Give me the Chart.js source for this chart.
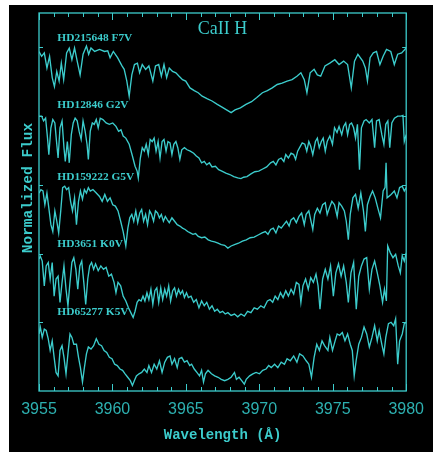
<!DOCTYPE html>
<html>
<head>
<meta charset="utf-8">
<script src="https://cdn.jsdelivr.net/npm/chart.js@4.4.1/dist/chart.umd.min.js"></script>
<style>
  html, body { margin: 0; padding: 0; background: #fff; }
  #plot { position: absolute; left: 9px; top: 5px; background: #000; }
</style>
</head>
<body>
<canvas id="plot" width="424" height="447"></canvas>
<script>
// Ca II H region, five dwarfs, each normalized and offset by 1
const starNames = ['HD215648 F7V', 'HD12846 G2V', 'HD159222 G5V', 'HD3651 K0V', 'HD65277 K5V'];
const starOffsets = [4, 3, 2, 1, 0];
const labelY = [5.09, 4.12, 3.07, 2.10, 1.11];
const labelX = 3956.25;
const xTicks = [3955, 3960, 3965, 3970, 3975, 3980];

const waveF7 = [3955.00,3955.18,3955.36,3955.54,3955.72,3955.90,3956.05,3956.21,3956.37,3956.52,3956.68,3956.88,3957.06,3957.24,3957.42,3957.60,3957.80,3958.00,3958.23,3958.38,3958.54,3958.79,3959.12,3959.46,3959.68,3959.84,3960.06,3960.35,3960.65,3960.80,3960.98,3961.14,3961.32,3961.50,3961.70,3961.85,3962.03,3962.26,3962.48,3962.75,3962.93,3963.15,3963.33,3963.51,3963.69,3963.87,3964.09,3964.32,3964.54,3964.77,3964.99,3965.28,3965.57,3965.84,3966.11,3966.47,3966.78,3967.14,3967.46,3967.77,3968.08,3968.35,3968.71,3969.09,3969.47,3969.83,3970.21,3970.55,3970.88,3971.22,3971.55,3971.89,3972.23,3972.56,3972.83,3973.06,3973.24,3973.46,3973.73,3973.95,3974.18,3974.47,3974.80,3975.14,3975.43,3975.74,3976.01,3976.26,3976.48,3976.71,3977.04,3977.22,3977.36,3977.54,3977.76,3977.98,3978.21,3978.43,3978.66,3978.95,3979.19,3979.42,3979.69,3980.00];
const fluxF7 = [0.94,0.87,0.92,0.70,0.87,0.56,0.43,0.65,0.51,0.77,0.53,0.92,0.99,0.82,0.99,0.80,0.60,0.90,1.02,0.90,0.99,0.94,0.97,0.94,0.95,0.85,0.94,0.85,0.73,0.68,0.51,0.29,0.60,0.75,0.77,0.63,0.75,0.68,0.73,0.51,0.73,0.75,0.58,0.75,0.56,0.70,0.65,0.63,0.58,0.53,0.51,0.41,0.37,0.34,0.29,0.25,0.22,0.17,0.13,0.09,0.05,0.09,0.12,0.17,0.21,0.27,0.34,0.37,0.41,0.46,0.48,0.51,0.53,0.58,0.63,0.53,0.34,0.63,0.68,0.60,0.58,0.73,0.77,0.82,0.75,0.80,0.75,0.41,0.80,0.90,0.80,0.70,0.51,0.85,0.92,0.94,0.75,0.87,0.97,0.94,0.75,0.90,0.92,0.99];

const waveG2 = [3955.00,3955.18,3955.31,3955.45,3955.58,3955.67,3955.81,3955.94,3956.08,3956.21,3956.30,3956.43,3956.57,3956.70,3956.79,3956.93,3957.06,3957.20,3957.33,3957.46,3957.60,3957.73,3957.87,3958.00,3958.14,3958.27,3958.36,3958.49,3958.63,3958.76,3958.90,3959.03,3959.17,3959.35,3959.57,3959.79,3960.02,3960.24,3960.42,3960.58,3960.73,3960.91,3961.14,3961.36,3961.54,3961.68,3961.76,3961.90,3962.03,3962.17,3962.30,3962.44,3962.57,3962.71,3962.84,3962.97,3963.11,3963.24,3963.38,3963.51,3963.65,3963.78,3963.92,3964.05,3964.18,3964.32,3964.45,3964.59,3964.72,3964.90,3965.08,3965.30,3965.53,3965.71,3965.89,3966.07,3966.25,3966.42,3966.60,3966.78,3967.01,3967.23,3967.45,3967.72,3967.99,3968.26,3968.53,3968.75,3968.93,3969.16,3969.43,3969.69,3969.96,3970.23,3970.50,3970.77,3970.95,3971.13,3971.31,3971.49,3971.67,3971.80,3971.98,3972.16,3972.34,3972.47,3972.61,3972.79,3972.92,3973.10,3973.23,3973.37,3973.50,3973.64,3973.82,3973.95,3974.08,3974.22,3974.35,3974.49,3974.62,3974.80,3974.98,3975.12,3975.29,3975.43,3975.61,3975.74,3975.88,3976.01,3976.15,3976.28,3976.42,3976.55,3976.68,3976.82,3976.95,3977.13,3977.27,3977.49,3977.67,3977.85,3977.98,3978.16,3978.34,3978.48,3978.61,3978.75,3978.88,3979.02,3979.20,3979.42,3979.64,3979.78,3979.87,3980.00];
const fluxG2 = [1.00,1.00,0.93,0.97,0.68,0.44,0.83,0.95,0.90,0.59,0.39,0.83,0.93,0.54,0.34,0.63,0.32,0.73,0.90,0.97,0.93,0.78,0.66,0.93,0.78,0.59,0.37,0.78,0.90,0.88,0.95,0.83,0.97,0.95,0.90,0.88,0.90,0.85,0.78,0.80,0.71,0.68,0.59,0.42,0.27,0.20,0.10,0.39,0.54,0.49,0.59,0.44,0.66,0.63,0.68,0.49,0.63,0.39,0.63,0.66,0.49,0.63,0.61,0.44,0.59,0.63,0.54,0.37,0.51,0.54,0.51,0.49,0.46,0.42,0.39,0.32,0.34,0.29,0.32,0.26,0.27,0.22,0.20,0.17,0.15,0.12,0.10,0.09,0.11,0.12,0.16,0.19,0.20,0.23,0.26,0.32,0.34,0.29,0.37,0.39,0.34,0.44,0.39,0.46,0.44,0.37,0.49,0.56,0.61,0.59,0.49,0.63,0.56,0.44,0.63,0.68,0.54,0.63,0.68,0.49,0.63,0.71,0.59,0.83,0.76,0.85,0.73,0.85,0.90,0.73,0.88,0.90,0.83,0.68,0.88,0.22,0.83,0.93,0.95,0.90,0.95,0.54,0.93,0.95,0.73,0.59,0.88,0.93,0.54,0.90,0.97,1.00,1.00,1.01,0.63,0.73];

const waveG5 = [3955.00,3955.13,3955.27,3955.40,3955.54,3955.67,3955.81,3955.94,3956.08,3956.21,3956.34,3956.48,3956.61,3956.75,3956.88,3957.02,3957.15,3957.28,3957.42,3957.55,3957.69,3957.82,3957.96,3958.09,3958.23,3958.36,3958.49,3958.67,3958.90,3959.12,3959.30,3959.48,3959.66,3959.84,3960.02,3960.20,3960.38,3960.56,3960.73,3960.91,3961.05,3961.18,3961.32,3961.45,3961.59,3961.72,3961.86,3961.99,3962.12,3962.26,3962.39,3962.53,3962.66,3962.80,3962.93,3963.07,3963.20,3963.33,3963.47,3963.60,3963.74,3963.87,3964.05,3964.23,3964.41,3964.59,3964.77,3964.95,3965.12,3965.30,3965.48,3965.66,3965.84,3966.07,3966.29,3966.52,3966.74,3966.96,3967.19,3967.41,3967.64,3967.86,3968.08,3968.31,3968.58,3968.85,3969.11,3969.38,3969.65,3969.92,3970.19,3970.41,3970.59,3970.77,3970.95,3971.13,3971.31,3971.49,3971.67,3971.85,3972.03,3972.16,3972.34,3972.52,3972.70,3972.88,3973.06,3973.19,3973.37,3973.50,3973.64,3973.77,3973.95,3974.13,3974.31,3974.49,3974.62,3974.76,3974.94,3975.12,3975.30,3975.43,3975.61,3975.79,3975.92,3976.06,3976.19,3976.37,3976.55,3976.73,3976.91,3977.09,3977.22,3977.36,3977.54,3977.71,3977.89,3978.07,3978.25,3978.43,3978.56,3978.63,3978.70,3978.97,3979.19,3979.37,3979.55,3979.73,3979.87,3980.00];
const fluxG5 = [0.88,0.93,0.91,0.71,0.88,0.66,0.42,0.32,0.62,0.47,0.30,0.62,0.96,0.98,0.93,0.96,0.76,0.62,0.81,0.42,0.76,0.91,0.79,0.93,0.88,0.96,0.91,0.93,0.88,0.83,0.76,0.86,0.76,0.81,0.71,0.69,0.62,0.47,0.32,0.11,0.37,0.52,0.57,0.47,0.62,0.45,0.59,0.64,0.47,0.57,0.42,0.62,0.57,0.47,0.62,0.59,0.52,0.57,0.47,0.54,0.49,0.45,0.52,0.47,0.42,0.40,0.37,0.35,0.32,0.30,0.28,0.29,0.25,0.23,0.24,0.20,0.18,0.17,0.15,0.13,0.12,0.08,0.11,0.13,0.15,0.18,0.20,0.23,0.24,0.27,0.30,0.32,0.28,0.35,0.37,0.30,0.40,0.37,0.42,0.47,0.40,0.49,0.52,0.45,0.54,0.59,0.42,0.57,0.62,0.49,0.35,0.57,0.66,0.59,0.71,0.74,0.57,0.66,0.76,0.71,0.54,0.74,0.69,0.62,0.47,0.20,0.57,0.81,0.86,0.66,0.88,0.62,0.32,0.71,0.83,0.91,0.81,0.66,0.52,0.91,0.96,1.32,0.81,0.86,0.91,0.81,0.96,0.98,0.91,0.96];

const waveK0 = [3955.00,3955.09,3955.22,3955.36,3955.49,3955.63,3955.76,3955.90,3956.03,3956.16,3956.30,3956.43,3956.57,3956.70,3956.84,3956.97,3957.11,3957.24,3957.37,3957.51,3957.64,3957.78,3957.91,3958.05,3958.18,3958.32,3958.45,3958.58,3958.72,3958.85,3959.03,3959.21,3959.39,3959.57,3959.75,3959.93,3960.11,3960.24,3960.38,3960.56,3960.73,3960.91,3961.09,3961.25,3961.41,3961.54,3961.68,3961.81,3961.95,3962.08,3962.21,3962.35,3962.48,3962.62,3962.75,3962.89,3963.02,3963.15,3963.29,3963.42,3963.56,3963.69,3963.83,3963.96,3964.10,3964.23,3964.36,3964.50,3964.63,3964.77,3964.90,3965.04,3965.17,3965.35,3965.53,3965.71,3965.89,3966.07,3966.25,3966.42,3966.60,3966.78,3966.96,3967.14,3967.32,3967.50,3967.68,3967.86,3968.08,3968.31,3968.53,3968.75,3968.98,3969.20,3969.43,3969.65,3969.87,3970.10,3970.32,3970.55,3970.73,3970.91,3971.08,3971.26,3971.44,3971.62,3971.80,3971.98,3972.16,3972.34,3972.52,3972.70,3972.83,3972.97,3973.15,3973.33,3973.50,3973.68,3973.86,3974.00,3974.13,3974.31,3974.49,3974.67,3974.85,3975.04,3975.21,3975.39,3975.57,3975.74,3975.92,3976.06,3976.24,3976.42,3976.60,3976.77,3976.95,3977.13,3977.31,3977.49,3977.67,3977.85,3978.03,3978.21,3978.39,3978.52,3978.65,3978.74,3978.92,3979.10,3979.28,3979.46,3979.60,3979.73,3979.87,3980.00];
const fluxK0 = [0.92,0.96,0.89,0.53,0.82,0.87,0.63,0.87,0.38,0.63,0.67,0.29,0.58,0.82,0.48,0.24,0.58,0.87,0.94,0.77,0.48,0.82,0.89,0.58,0.26,0.63,0.82,0.87,0.77,0.85,0.75,0.82,0.77,0.80,0.67,0.70,0.58,0.43,0.58,0.53,0.38,0.31,0.21,0.14,0.07,0.16,0.29,0.33,0.31,0.38,0.31,0.43,0.33,0.48,0.26,0.46,0.50,0.29,0.50,0.33,0.48,0.38,0.53,0.31,0.46,0.50,0.38,0.48,0.41,0.46,0.36,0.43,0.36,0.38,0.29,0.33,0.21,0.31,0.24,0.29,0.19,0.24,0.16,0.19,0.14,0.16,0.12,0.14,0.10,0.12,0.08,0.12,0.09,0.16,0.14,0.21,0.19,0.24,0.21,0.31,0.33,0.29,0.38,0.33,0.43,0.36,0.46,0.38,0.48,0.41,0.58,0.55,0.29,0.53,0.63,0.48,0.65,0.58,0.70,0.53,0.19,0.63,0.77,0.63,0.82,0.38,0.72,0.85,0.67,0.82,0.58,0.29,0.72,0.87,0.19,0.67,0.82,0.92,0.94,0.48,0.77,0.89,0.72,0.53,0.29,0.48,0.31,1.11,1.01,0.94,0.99,0.82,0.72,0.97,0.89,1.01];

const waveK5 = [3955.00,3955.09,3955.22,3955.36,3955.49,3955.63,3955.76,3955.90,3956.03,3956.16,3956.30,3956.43,3956.57,3956.70,3956.84,3956.97,3957.11,3957.24,3957.37,3957.55,3957.69,3957.82,3957.96,3958.09,3958.23,3958.36,3958.54,3958.72,3958.90,3959.08,3959.26,3959.43,3959.61,3959.79,3959.97,3960.15,3960.33,3960.51,3960.69,3960.86,3961.04,3961.22,3961.36,3961.49,3961.63,3961.81,3961.99,3962.17,3962.35,3962.48,3962.66,3962.84,3963.02,3963.20,3963.38,3963.56,3963.74,3963.92,3964.05,3964.23,3964.41,3964.54,3964.72,3964.90,3965.08,3965.26,3965.39,3965.57,3965.75,3965.93,3966.07,3966.20,3966.33,3966.51,3966.74,3966.96,3967.19,3967.41,3967.64,3967.86,3968.08,3968.31,3968.44,3968.62,3968.80,3968.98,3969.11,3969.34,3969.56,3969.78,3970.01,3970.23,3970.46,3970.64,3970.81,3971.04,3971.26,3971.49,3971.71,3971.89,3972.11,3972.34,3972.56,3972.74,3972.97,3973.19,3973.37,3973.55,3973.73,3973.91,3974.09,3974.27,3974.44,3974.67,3974.80,3974.98,3975.16,3975.30,3975.47,3975.65,3975.83,3976.01,3976.19,3976.33,3976.46,3976.59,3976.77,3976.95,3977.13,3977.31,3977.49,3977.67,3977.85,3978.03,3978.16,3978.34,3978.48,3978.61,3978.79,3978.97,3979.15,3979.28,3979.42,3979.55,3979.73,3979.87,3980.00];
const fluxK5 = [0.83,0.93,0.78,0.90,0.88,0.76,0.59,0.73,0.49,0.27,0.22,0.59,0.66,0.49,0.25,0.54,0.83,0.78,0.68,0.68,0.49,0.34,0.13,0.34,0.54,0.64,0.61,0.66,0.76,0.68,0.66,0.59,0.56,0.49,0.47,0.39,0.37,0.32,0.30,0.25,0.20,0.15,0.08,0.15,0.22,0.25,0.27,0.32,0.27,0.37,0.27,0.39,0.32,0.44,0.27,0.42,0.49,0.51,0.39,0.47,0.34,0.47,0.49,0.42,0.44,0.37,0.39,0.32,0.27,0.22,0.30,0.13,0.25,0.30,0.25,0.22,0.20,0.17,0.15,0.17,0.20,0.27,0.17,0.20,0.15,0.10,0.17,0.22,0.25,0.27,0.25,0.30,0.32,0.37,0.34,0.39,0.34,0.42,0.39,0.47,0.44,0.51,0.42,0.54,0.51,0.44,0.39,0.20,0.49,0.68,0.59,0.73,0.66,0.59,0.78,0.59,0.73,0.83,0.81,0.85,0.73,0.83,0.68,0.59,0.22,0.44,0.68,0.78,0.93,0.83,0.64,0.78,0.95,0.73,0.88,0.68,0.54,0.78,0.98,1.00,0.95,1.05,0.39,0.73,0.83,0.98,1.00];

const spectra = [
    [waveF7, fluxF7],
    [waveG2, fluxG2],
    [waveG5, fluxG5],
    [waveK0, fluxK0],
    [waveK5, fluxK5]
];

const teal = '#3ccccc';
const tealDim = '#2db0b0';

const datasets = spectra.map(([wave, flux], i) => ({
    label: starNames[i],
    data: wave.map((w, k) => ({ x: w, y: flux[k] + starOffsets[i] })),
    borderColor: teal,
    borderWidth: 1.35,
    pointRadius: 0,
    tension: 0,
    fill: false
}));

// frame, inward ticks and the text PGPLOT put inside the box
const frameAndText = {
    id: 'frameAndText',
    afterDraw(chart) {
        const { ctx, chartArea: a, scales: { x, y } } = chart;
        ctx.save();
        ctx.strokeStyle = teal;
        ctx.lineWidth = 1.3;
        ctx.strokeRect(a.left, a.top, a.right - a.left, a.bottom - a.top);

        ctx.beginPath();
        for (let v = 3955; v <= 3980; v++) {
            const px = Math.round(x.getPixelForValue(v)) + 0.5;
            const len = v % 5 === 0 ? 7 : 4;
            ctx.moveTo(px, a.bottom); ctx.lineTo(px, a.bottom - len);
            ctx.moveTo(px, a.top); ctx.lineTo(px, a.top + len);
        }
        for (let v = 1; v <= 5; v++) {
            const py = Math.round(y.getPixelForValue(v)) + 0.5;
            ctx.moveTo(a.left, py); ctx.lineTo(a.left + 4, py);
            ctx.moveTo(a.right, py); ctx.lineTo(a.right - 4, py);
        }
        ctx.lineWidth = 1;
        ctx.stroke();

        ctx.fillStyle = teal;
        ctx.textAlign = 'center';
        ctx.textBaseline = 'alphabetic';
        ctx.font = '18px "Liberation Serif"';
        ctx.fillText('CaII H', (a.left + a.right) / 2, a.top + 20.5);

        ctx.textAlign = 'left';
        ctx.font = 'bold 11.4px "Liberation Serif"';
        starNames.forEach((name, i) => {
            ctx.fillText(name, x.getPixelForValue(labelX), y.getPixelForValue(labelY[i]));
        });

        ctx.save();
        ctx.translate(23, 183);
        ctx.rotate(-Math.PI / 2);
        ctx.textAlign = 'center';
        ctx.font = 'bold 14.5px "Liberation Mono"';
        ctx.fillText('Normalized Flux', 0, 0);
        ctx.restore();
        ctx.restore();
    }
};

new Chart(document.getElementById('plot'), {
    type: 'line',
    data: { datasets },
    options: {
        responsive: false,
        animation: false,
        devicePixelRatio: 1,
        layout: { padding: { top: 8, right: 22, left: 0, bottom: 0 } },
        plugins: { legend: { display: false }, tooltip: { enabled: false } },
        scales: {
            x: {
                type: 'linear',
                min: 3955,
                max: 3980,
                afterBuildTicks: (s) => { s.ticks = xTicks.map(v => ({ value: v })); },
                afterFit: (s) => { s.height = 61; },
                grid: { display: false, drawTicks: false },
                border: { display: false },
                ticks: {
                    color: tealDim,
                    font: { family: 'Liberation Sans', size: 16 },
                    padding: 9,
                    maxRotation: 0,
                    autoSkip: false,
                    callback: (v) => String(v)
                },
                title: {
                    display: true,
                    text: 'Wavelength (Å)',
                    color: teal,
                    font: { family: 'Liberation Mono', size: 14, weight: 'bold' },
                    padding: { top: 0, bottom: 8.6 }
                }
            },
            y: {
                type: 'linear',
                min: 0,
                max: 5.5,
                afterFit: (s) => { s.width = 30; },
                grid: { display: false, drawTicks: false },
                border: { display: false },
                ticks: { display: false }
            }
        }
    },
    plugins: [frameAndText]
});
</script>
</body>
</html>
